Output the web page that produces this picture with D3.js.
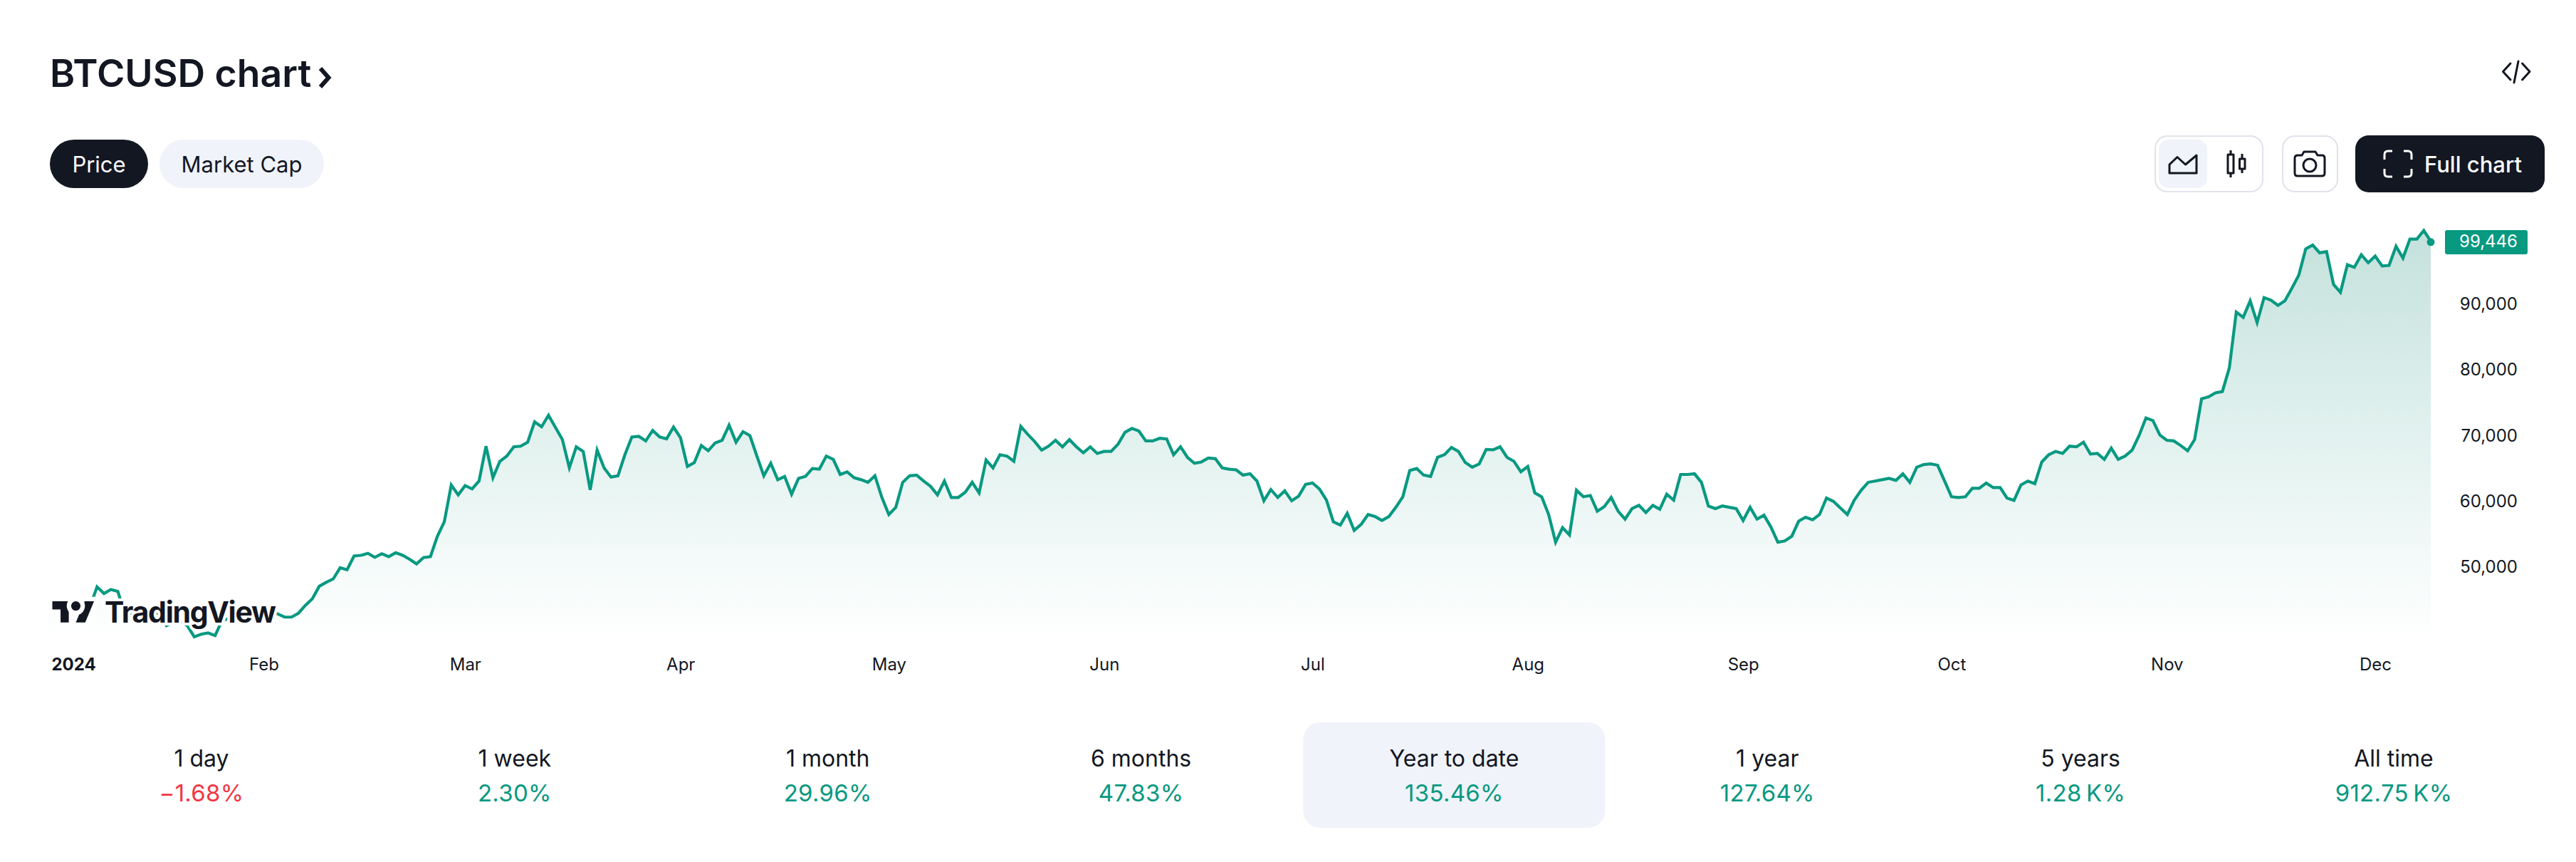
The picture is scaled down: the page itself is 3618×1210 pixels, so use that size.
<!DOCTYPE html>
<html>
<head>
<meta charset="utf-8">
<title>BTCUSD chart</title>
<script src="https://cdn.jsdelivr.net/npm/d3@7"></script>
<style>
    html, body { margin: 0; padding: 0; background: #fff; }
    svg { display: block; }
    text { font-family: Inter, "Noto Sans", sans-serif; fill: #131722; }
</style>
</head>
<body>
<div id="chart"></div>
<script>
// daily closes in usd, first day is 2024-01-01
const closes = [
    44200, 44600, 42900, 44200, 44200, 44000, 43900, 46900, 45900, 46500,
    46200, 42800, 42850, 41750, 42500, 43100, 42750, 41000, 41600, 41650,
    41000, 39300, 39700, 39900, 39500, 41800, 42100, 42000, 43300, 42900,
    42600, 43100, 43200, 42800, 42300, 42300, 42900, 44100, 45100, 47000,
    47600, 48100, 49800, 49500, 51600, 51700, 52000, 51400, 51950, 51500,
    52100, 51700, 51100, 50400, 51350, 51500, 54600, 56800, 62400, 60900,
    62300, 61800, 63000, 68300, 63500, 66000, 66800, 68200, 68300, 68900,
    72000, 71250, 73000, 71150, 69300, 65000, 68200, 67500, 61650, 67700,
    65000, 63600, 63800, 67000, 69700, 69800, 69100, 70700, 69700, 69400,
    71200, 69600, 65200, 65800, 68400, 67600, 68800, 69200, 71500, 68900,
    70500, 69900, 66800, 63800, 65700, 63200, 63700, 61000, 63400, 63700,
    64900, 64800, 66800, 66300, 64000, 64400, 63500, 63200, 62800, 63800,
    60500, 57900, 59000, 62800, 63800, 63900, 63000, 62200, 60900, 63000,
    60500, 60500, 61300, 62800, 61200, 66200, 65000, 67000, 66800, 66000,
    71300, 70100, 69000, 67700, 68300, 69200, 68200, 69300, 68200, 67300,
    68200, 67200, 67500, 67500, 68600, 70400, 71000, 70600, 69100, 69100,
    69500, 69400, 67000, 68200, 66600, 65700, 65900, 66500, 66400, 65000,
    64800, 64700, 63900, 64100, 63000, 60000, 61700, 60500, 61500, 60000,
    60700, 62500, 62700, 61800, 60100, 56800, 56300, 58100, 55500, 56400,
    57900, 57600, 57000, 57600, 59000, 60600, 64600, 64900, 63900, 63700,
    66600, 67000, 68100, 67500, 65800, 65100, 65600, 67800, 67750, 68200,
    66600, 66000, 64400, 65200, 61200, 60600, 57900, 53700, 55900, 54800,
    61600, 60600, 60800, 58400, 59100, 60500, 58400, 57200, 58800, 59300,
    58200, 59300, 58700, 61000, 60100, 64000, 64000, 64100, 62800, 59200,
    58800, 59200, 59000, 58800, 57000, 59000, 57200, 57800, 56000, 53700,
    53900, 54600, 56900, 57500, 57100, 57900, 60400, 59900, 58900, 57900,
    60100, 61600, 62800, 63000, 63200, 63400, 63100, 64100, 62800, 65100,
    65500, 65600, 65400, 63000, 60600, 60500, 60600, 61900, 61900, 62700,
    62000, 62000, 60400, 60060, 62400, 63000, 62600, 65900, 67000, 67500,
    67200, 68300, 68200, 68900, 67100, 67200, 66300, 68000, 66300, 66800,
    67700, 69900, 72600, 72200, 70000, 69200, 69100, 68400, 67600, 69300,
    75500, 75800, 76400, 76600, 80200, 88700, 87900, 90400, 87100, 90900,
    90500, 89700, 90400, 92300, 94300, 98300, 98900, 97700, 97900, 92900,
    91700, 95900, 95500, 97400, 96200, 97200, 95700, 95800, 98700, 96900,
    99800, 99800, 101100, 99446
];

// axis labels
const monthLabels = ['2024', 'Feb', 'Mar', 'Apr', 'May', 'Jun', 'Jul', 'Aug', 'Sep', 'Oct', 'Nov', 'Dec'];
const priceTicks = [50000, 60000, 70000, 80000, 90000];

// the row of period changes under the chart
const periodLabels = ['1 day', '1 week', '1 month', '6 months', 'Year to date', '1 year', '5 years', 'All time'];
const periodChanges = ['\u22121.68%', '2.30%', '29.96%', '47.83%', '135.46%', '127.64%', '1.28\u202fK%', '912.75\u202fK%'];
const selectedPeriod = 'Year to date';

const width = 3618;
const height = 1210;
const ink = '#131722';
const green = '#089981';
const red = '#f23645';
const paleBlue = '#f0f3fa';
const border = '#e0e3eb';
const plotBottom = 900;

const svg = d3.select('#chart').append('svg')
    .attr('width', width)
    .attr('height', height);

// scales for the price pane
const startDay = new Date(Date.UTC(2024, 0, 1));
const dayOf = i => d3.utcDay.offset(startDay, i);
const x = d3.scaleUtc()
    .domain([startDay, dayOf(closes.length - 1)])
    .range([68, 3414]);
const y = d3.scaleLinear()
    .domain([50000, 90000])
    .range([795.2, 426]);

// gradient under the line
const gradient = svg.append('defs').append('linearGradient')
    .attr('id', 'area-fill')
    .attr('gradientUnits', 'userSpaceOnUse')
    .attr('x1', 0).attr('x2', 0)
    .attr('y1', 320).attr('y2', plotBottom);
gradient.append('stop').attr('offset', 0).attr('stop-color', '#0a806c').attr('stop-opacity', 0.24);
gradient.append('stop').attr('offset', 1).attr('stop-color', green).attr('stop-opacity', 0);

const area = d3.area()
    .x((d, i) => x(dayOf(i)))
    .y0(plotBottom)
    .y1(d => y(d));
const line = d3.line()
    .x((d, i) => x(dayOf(i)))
    .y(d => y(d));

svg.append('path')
    .datum(closes)
    .attr('d', area)
    .attr('fill', 'url(#area-fill)');
svg.append('path')
    .datum(closes)
    .attr('d', line)
    .attr('fill', 'none')
    .attr('stroke', green)
    .attr('stroke-width', 4.2)
    .attr('stroke-linejoin', 'miter');

// last price dot and its tag
const lastClose = closes[closes.length - 1];
svg.append('circle')
    .attr('cx', x(dayOf(closes.length - 1)))
    .attr('cy', y(lastClose) + 1)
    .attr('r', 5.5)
    .attr('fill', green);
svg.append('rect')
    .attr('x', 3434).attr('y', 323)
    .attr('width', 116).attr('height', 34)
    .attr('rx', 3)
    .attr('fill', green);
svg.append('text')
    .attr('x', 3536).attr('y', 338.5)
    .attr('dy', '.36em')
    .attr('text-anchor', 'end')
    .attr('font-size', 24)
    .style('fill', '#fff')
    .text(d3.format(',')(lastClose));

// price axis, only labels
const yAxis = svg.append('g')
    .attr('transform', 'translate(3536,0)')
    .call(d3.axisLeft(y).tickValues(priceTicks).tickFormat(d3.format(',')).tickSize(0).tickPadding(0));
yAxis.select('.domain').remove();
yAxis.selectAll('text')
    .attr('dy', '.36em')
    .attr('font-size', 24)
    .attr('font-family', 'Inter');

// time axis, one label per month
const monthTicks = monthLabels.map((d, i) => new Date(Date.UTC(2024, i, 1)));
const xAxis = svg.append('g')
    .attr('transform', 'translate(0,932)')
    .call(d3.axisBottom(x)
        .tickValues(monthTicks)
        .tickFormat((d, i) => monthLabels[i])
        .tickSize(0)
        .tickPadding(0));
xAxis.select('.domain').remove();
xAxis.selectAll('text')
    .attr('y', 0)
    .attr('dy', '.36em')
    .attr('font-size', 24)
    .attr('font-family', 'Inter');
xAxis.selectAll('.tick').filter((d, i) => i === 0).select('text')
    .attr('text-anchor', 'start')
    .attr('x', 4)
    .attr('font-weight', 700);

// tradingview logo sits on top of the line with a white halo
const logo = svg.append('g');
const logoMark = logo.append('g')
    .attr('transform', 'translate(73.5,837.4) scale(1.65)');
logoMark.append('path')
    .attr('d', 'M14 22H7V11H0V4h14v18ZM28 22h-8l7.5-18h8L28 22Z')
    .attr('fill', ink).attr('stroke', '#fff').attr('stroke-width', 7.5).attr('paint-order', 'stroke');
logoMark.append('circle')
    .attr('cx', 20).attr('cy', 8).attr('r', 4)
    .attr('fill', ink).attr('stroke', '#fff').attr('stroke-width', 7.5).attr('paint-order', 'stroke');
logo.append('text')
    .attr('x', 147).attr('y', 874)
    .attr('font-size', 41)
    .attr('font-weight', 700)
    .attr('letter-spacing', -1.3)
    .attr('stroke', '#fff')
    .attr('stroke-width', 8)
    .attr('paint-order', 'stroke')
    .text('TradingView');

// title
svg.append('text')
    .attr('x', 70).attr('y', 122)
    .attr('font-size', 53.5)
    .attr('font-weight', 600)
    .text('BTCUSD chart');
svg.append('path')
    .attr('d', 'M450 96L461.5 109L450 122')
    .attr('fill', 'none')
    .attr('stroke', ink)
    .attr('stroke-width', 6);

// price / market cap pills
const pills = [
    {label: 'Price', x0: 70, x1: 208, fill: ink, text: '#fff'},
    {label: 'Market Cap', x0: 224, x1: 455, fill: paleBlue, text: ink}
];
const pill = svg.selectAll('.pill')
    .data(pills)
    .enter().append('g')
    .attr('class', 'pill');
pill.append('rect')
    .attr('x', d => d.x0).attr('y', 196)
    .attr('width', d => d.x1 - d.x0).attr('height', 68)
    .attr('rx', 34)
    .attr('fill', d => d.fill);
pill.append('text')
    .attr('x', d => (d.x0 + d.x1) / 2).attr('y', 231)
    .attr('dy', '.36em')
    .attr('text-anchor', 'middle')
    .attr('font-size', 31)
    .style('fill', d => d.text)
    .text(d => d.label);

// embed icon
svg.append('path')
    .attr('d', 'M3526 89L3515.5 100.5L3526 112M3537 86L3531 116M3542.5 89L3553 100.5L3542.5 112')
    .attr('fill', 'none')
    .attr('stroke', ink)
    .attr('stroke-width', 3)
    .attr('stroke-linecap', 'round')
    .attr('stroke-linejoin', 'round');

// chart style switch
svg.append('rect')
    .attr('x', 3027).attr('y', 191)
    .attr('width', 151).attr('height', 78)
    .attr('rx', 17)
    .attr('fill', '#fff').attr('stroke', border).attr('stroke-width', 2);
svg.append('rect')
    .attr('x', 3032).attr('y', 196)
    .attr('width', 68).attr('height', 68)
    .attr('rx', 14)
    .attr('fill', paleBlue);
svg.append('path')
    .attr('d', 'M3047 231L3058 220.5L3069.5 231L3085 218V243H3047Z')
    .attr('fill', 'none')
    .attr('stroke', ink)
    .attr('stroke-width', 3)
    .attr('stroke-linejoin', 'round');
svg.append('path')
    .attr('d', 'M3133 211V217M3133 243V249M3129 217H3137V243H3129ZM3149 216V223M3149 237V243M3145.5 223H3153V237H3145.5Z')
    .attr('fill', 'none')
    .attr('stroke', ink)
    .attr('stroke-width', 3)
    .attr('stroke-linejoin', 'round');

// screenshot button
svg.append('rect')
    .attr('x', 3206).attr('y', 191)
    .attr('width', 77).attr('height', 78)
    .attr('rx', 17)
    .attr('fill', '#fff').attr('stroke', border).attr('stroke-width', 2);
svg.append('path')
    .attr('d', 'M3227 218H3233L3236 213H3252L3255 218H3261Q3265 218 3265 222V243Q3265 247 3261 247H3227Q3223 247 3223 243V222Q3223 218 3227 218Z')
    .attr('fill', 'none')
    .attr('stroke', ink)
    .attr('stroke-width', 3)
    .attr('stroke-linejoin', 'round');
svg.append('circle')
    .attr('cx', 3244).attr('cy', 232).attr('r', 9)
    .attr('fill', 'none')
    .attr('stroke', ink)
    .attr('stroke-width', 3);

// full chart button
svg.append('rect')
    .attr('x', 3308).attr('y', 190)
    .attr('width', 266).attr('height', 80)
    .attr('rx', 19)
    .attr('fill', ink);
svg.append('path')
    .attr('d', 'M3349 224V217Q3349 212 3354 212H3360M3376 212H3382Q3387 212 3387 217V224M3387 237V243Q3387 248 3382 248H3376M3360 248H3354Q3349 248 3349 243V237')
    .attr('fill', 'none')
    .attr('stroke', '#fff')
    .attr('stroke-width', 3);
svg.append('text')
    .attr('x', 3405).attr('y', 231)
    .attr('dy', '.36em')
    .attr('font-size', 31)
    .attr('font-weight', 500)
    .style('fill', '#fff')
    .text('Full chart');

// period changes row
const periodX = d3.scalePoint()
    .domain(periodLabels)
    .range([283, 3362]);
svg.append('rect')
    .attr('x', periodX(selectedPeriod) - 212).attr('y', 1014)
    .attr('width', 424).attr('height', 148)
    .attr('rx', 24)
    .attr('fill', paleBlue);
const period = svg.selectAll('.period')
    .data(periodLabels)
    .enter().append('g')
    .attr('class', 'period')
    .attr('transform', d => `translate(${periodX(d)},0)`);
period.append('text')
    .attr('y', 1064)
    .attr('dy', '.36em')
    .attr('text-anchor', 'middle')
    .attr('font-size', 32)
    .text(d => d);
period.append('text')
    .attr('y', 1113)
    .attr('dy', '.36em')
    .attr('text-anchor', 'middle')
    .attr('font-size', 33)
    .attr('letter-spacing', 0.3)
    .style('fill', (d, i) => periodChanges[i].startsWith('\u2212') ? red : green)
    .text((d, i) => periodChanges[i]);
</script>
</body>
</html>
